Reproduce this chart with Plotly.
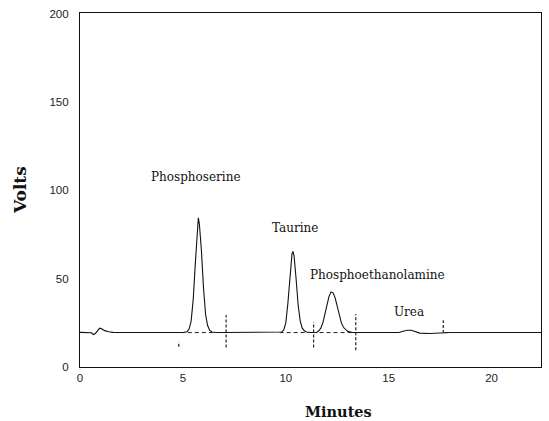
import plotly.graph_objects as go

# Detector trace (minutes, volts)
time_min = [0.0, 0.3, 0.55, 0.65, 0.75, 0.85, 0.95, 1.05, 1.2, 1.4, 1.6, 2.0, 3.0, 4.0, 5.0,
            5.2, 5.3, 5.4, 5.5, 5.6, 5.7, 5.75, 5.8, 5.9, 6.0, 6.1, 6.2, 6.3, 6.4, 6.6,
            7.0, 8.0, 9.0, 9.6, 9.8, 9.9, 10.0, 10.1, 10.2, 10.3, 10.35, 10.4, 10.5, 10.6,
            10.7, 10.8, 10.9, 11.0, 11.2, 11.5, 11.6, 11.7, 11.8, 11.9, 12.0, 12.1, 12.2,
            12.3, 12.4, 12.5, 12.6, 12.7, 12.8, 12.9, 13.0, 13.2, 13.5, 14.0, 15.0, 15.5,
            15.7, 15.9, 16.1, 16.3, 16.5, 17.0, 17.5, 17.7, 18.0, 19.0, 20.0, 21.0, 22.4]
volts = [19.6, 19.5, 19.4, 18.4, 19.0, 20.5, 22.0, 21.6, 20.6, 20.0, 19.6, 19.5, 19.5, 19.5, 19.5,
         20.0, 21.5, 26.0, 38.0, 58.0, 80.0, 84.5, 81.0, 66.0, 45.0, 30.0, 23.5, 20.8, 19.8, 19.5,
         19.5, 19.5, 19.5, 19.5, 19.8, 21.0, 25.0, 36.0, 53.0, 64.0, 65.5, 63.0, 50.0, 35.0,
         26.0, 22.0, 20.5, 19.8, 19.5, 19.6, 20.5, 22.0, 25.0, 30.0, 35.5, 40.0, 42.5,
         42.0, 39.0, 34.0, 29.0, 25.0, 22.5, 21.0, 20.2, 19.6, 19.5, 19.5, 19.5, 19.5,
         20.2, 20.8, 20.8, 20.0, 19.2, 19.0, 19.2, 19.5, 19.5, 19.5, 19.5, 19.5, 19.5]

# Integration baselines under peaks (dashed)
base_starts = [4.9, 9.7, 11.3, 17.7]
base_ends = [7.0, 11.1, 13.3, 19.5]
base_level = [19.5, 19.5, 19.5, 19.5]

# Dashed event markers: time, lower, upper
marker_time = [4.8, 7.1, 11.35, 13.4, 17.65]
marker_low = [11.5, 11.0, 11.0, 9.5, 19.3]
marker_high = [14.5, 29.5, 25.5, 30.0, 26.5]

# Peak labels
peak_names = ["Phosphoserine", "Taurine", "Phosphoethanolamine", "Urea"]
label_x = [5.63, 10.44, 14.47, 15.97]
label_y = [107.5, 79.0, 52.0, 31.0]

x_ticks = [0, 5, 10, 15, 20]
y_ticks = [0, 50, 100, 150, 200]

fig = go.Figure()
fig.add_trace(go.Scatter(x=time_min, y=volts, mode="lines",
                         line=dict(color="#111111", width=1.1), showlegend=False))
for s, e, lv in zip(base_starts, base_ends, base_level):
    fig.add_trace(go.Scatter(x=[s, e], y=[lv, lv], mode="lines",
                             line=dict(color="#222222", width=1, dash="4px,3px"), showlegend=False))
for t, lo, hi in zip(marker_time, marker_low, marker_high):
    fig.add_trace(go.Scatter(x=[t, t], y=[lo, hi], mode="lines",
                             line=dict(color="#222222", width=1.2, dash="3px,2px"), showlegend=False))

for name, lx, ly in zip(peak_names, label_x, label_y):
    fig.add_annotation(x=lx, y=ly, xref="x", yref="y", text=name, showarrow=False,
                       font=dict(family="DejaVu Serif", size=12, color="#111111"))

fig.add_annotation(x=-0.13, y=0.5, xref="paper", yref="paper", text="<b>Volts</b>",
                   textangle=-90, showarrow=False, xanchor="center", yanchor="middle",
                   font=dict(family="DejaVu Serif", size=17, color="#111111"))
fig.add_annotation(x=0.56, y=-0.127, xref="paper", yref="paper", text="<b>Minutes</b>",
                   showarrow=False, xanchor="center", yanchor="middle",
                   font=dict(family="DejaVu Serif", size=14.5, color="#111111"))

fig.update_xaxes(range=[0, 22.4], tickvals=x_ticks, ticks="", showgrid=False, zeroline=False,
                 showline=True, linecolor="#111111", linewidth=1.2, mirror=True,
                 tickfont=dict(family="Liberation Sans", size=11.5, color="#222222"))
fig.update_yaxes(range=[0, 200.5], tickvals=y_ticks, ticks="", showgrid=False, zeroline=False,
                 showline=True, linecolor="#111111", linewidth=1.2, mirror=True,
                 ticklabelstandoff=8,
                 tickfont=dict(family="Liberation Sans", size=11.5, color="#222222"))
fig.update_layout(width=549, height=421,
                  margin=dict(l=80, r=8, t=13, b=54, autoexpand=False),
                  plot_bgcolor="white", paper_bgcolor="white")
fig.write_html("out.html", config={"displayModeBar": False},
               post_script="document.body.style.margin='0px';document.body.style.overflow='hidden';")
